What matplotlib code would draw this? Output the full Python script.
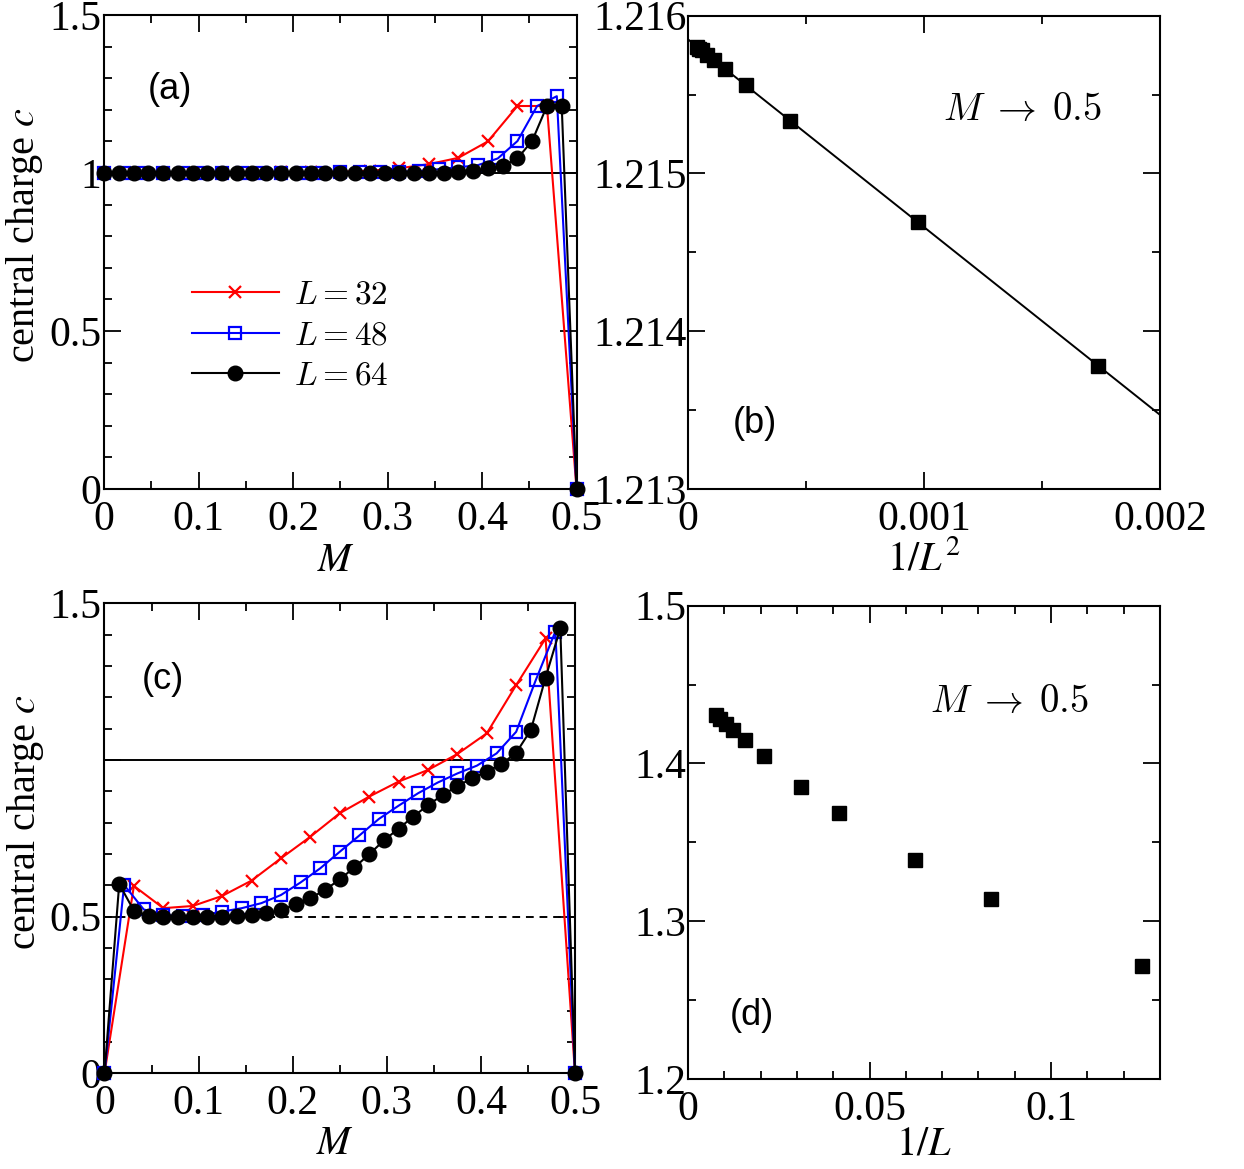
import matplotlib
matplotlib.use("Agg")
import matplotlib.pyplot as plt
from matplotlib.ticker import MultipleLocator

plt.rcParams["font.family"] = "Liberation Serif"
plt.rcParams["mathtext.fontset"] = "stix"

# panel (a): central charge vs M, one series per system size
L_sizes = [32, 48, 64]
c_a_32 = [1.0, 1.0, 1.0, 1.0, 1.001, 1.001, 1.002, 1.003, 1.004, 1.007,
          1.015, 1.028, 1.048, 1.100, 1.212, 1.212, 0.0]
c_a_48 = [1.0, 1.0, 1.0, 1.0, 1.0, 1.0, 1.0, 1.0, 1.0, 1.0, 1.001, 1.001,
          1.002, 1.002, 1.003, 1.004, 1.006, 1.012, 1.018, 1.025, 1.046,
          1.101, 1.212, 1.243, 0.0]
c_a_64 = [1.0, 1.0, 1.0, 1.0, 1.0, 1.0, 1.0, 1.0, 1.0, 1.0, 1.0, 1.0, 1.0,
          1.0, 1.0, 1.0, 1.0, 1.0, 1.0, 1.0, 1.0, 1.0, 1.0, 1.001, 1.004,
          1.007, 1.015, 1.022, 1.046, 1.102, 1.212, 1.212, 0.0]

# panel (c)
c_c_32 = [0.0, 0.598, 0.527, 0.534, 0.566, 0.615, 0.686, 0.755, 0.830,
          0.883, 0.931, 0.968, 1.019, 1.085, 1.239, 1.388, 0.0]
c_c_48 = [0.0, 0.601, 0.523, 0.505, 0.502, 0.505, 0.516, 0.527, 0.543,
          0.569, 0.609, 0.654, 0.707, 0.759, 0.812, 0.854, 0.894, 0.928,
          0.957, 0.982, 1.021, 1.090, 1.255, 1.410, 0.0]
c_c_64 = [0.0, 0.604, 0.519, 0.503, 0.500, 0.500, 0.500, 0.500, 0.500,
          0.502, 0.505, 0.511, 0.521, 0.539, 0.559, 0.585, 0.619, 0.657,
          0.699, 0.743, 0.781, 0.819, 0.856, 0.888, 0.917, 0.941, 0.963,
          0.987, 1.023, 1.096, 1.263, 1.420, 0.0]

# panel (b): peak value vs 1/L^2, with a linear fit
L_b = [24, 32, 48, 64, 80, 96, 112, 128, 144, 160]
c_b = [1.21378, 1.21469, 1.21533, 1.21556, 1.21566, 1.21572, 1.21575,
       1.21578, 1.21579, 1.21580]
fit_x = [0.0, 0.002]
fit_y = [1.21585, 1.21347]

# panel (d): peak value vs 1/L
L_d = [8, 12, 16, 24, 32, 48, 64, 80, 96, 112, 128]
c_d = [1.2717, 1.3139, 1.3388, 1.3684, 1.3853, 1.4046, 1.4147, 1.4215,
       1.4250, 1.4280, 1.4310]

W, H = 1244, 1169
fig = plt.figure(figsize=(W / 100, H / 100), dpi=100)


def box(left, top, right, bottom):
    return [left / W, 1 - bottom / H, (right - left) / W, (bottom - top) / H]


ax_a = fig.add_axes(box(104, 15, 576.5, 489))
ax_b = fig.add_axes(box(688, 15.7, 1160, 489))
ax_c = fig.add_axes(box(104.5, 603.3, 575, 1073.3))
ax_d = fig.add_axes(box(688, 605.7, 1160, 1079))

TICK_FS = 30
LABEL_FS = 29


def style(ax, ypad):
    for s in ax.spines.values():
        s.set_linewidth(1.5)
    ax.tick_params(which="both", direction="in", top=True, right=True,
                   width=1.3, labelsize=TICK_FS)
    ax.tick_params(which="major", length=12)
    ax.tick_params(which="minor", length=6)
    ax.tick_params(axis="x", pad=8)
    ax.tick_params(axis="y", pad=ypad)


def m_grid(L):
    return [k / L for k in range(L // 2 + 1)]


series_style = [
    dict(color="red", marker="x", ms=9, mew=1.6),
    dict(color="blue", marker="s", ms=9, mew=1.6, mfc="none"),
    dict(color="black", marker="o", ms=10.5),
]

for ax, data in [(ax_a, [c_a_32, c_a_48, c_a_64]), (ax_c, [c_c_32, c_c_48, c_c_64])]:
    ax.axhline(1.0, color="black", lw=1.4, zorder=1)
    for L, vals, st in zip(L_sizes, data, series_style):
        ax.plot(m_grid(L), vals, lw=1.5, label=rf"$L={L}$", zorder=3,
                clip_on=False, **st)
    ax.set_xlim(0, 0.5)
    ax.set_ylim(0, 1.5)
    ax.xaxis.set_minor_locator(MultipleLocator(0.05))
    ax.yaxis.set_minor_locator(MultipleLocator(0.1))
    ax.set_xticks([0, 0.1, 0.2, 0.3, 0.4, 0.5])
    ax.set_xticklabels(["0", "0.1", "0.2", "0.3", "0.4", "0.5"])
    style(ax, 2)
    ax.set_xlabel(r"$M$", fontsize=LABEL_FS)
    ax.set_ylabel(r"central charge $c$", fontsize=LABEL_FS)
    ax.yaxis.set_label_coords(-0.125, 0.535)
    ax.xaxis.set_label_coords(0.49, -0.113)

ax_c.axhline(0.5, color="black", lw=1.4, ls=(0, (4, 3)), zorder=1)
ax_a.set_yticks([0, 0.5, 1.0, 1.5])
ax_a.set_yticklabels(["0", "0.5", "1", "1.5"])
ax_c.set_yticks([0, 0.5, 1.0, 1.5])
ax_c.set_yticklabels(["0", "0.5", "", "1.5"])

leg = ax_a.legend(loc="upper left", bbox_to_anchor=(0.186, 0.44), frameon=False,
                  fontsize=24, handlelength=2.6, handletextpad=0.45,
                  labelspacing=0.3, borderpad=0, borderaxespad=0)
for t in leg.get_texts():
    t.set_math_fontfamily("cm")

# panel (b)
ax_b.plot(fit_x, fit_y, color="black", lw=1.4, zorder=2)
ax_b.plot([1 / L ** 2 for L in L_b], c_b, ls="none", marker="s", ms=10.5,
          color="black", zorder=3)
ax_b.set_xlim(0, 0.002)
ax_b.set_ylim(1.213, 1.216)
ax_b.set_xticks([0, 0.001, 0.002])
ax_b.set_xticklabels(["0", "0.001", "0.002"])
ax_b.xaxis.set_minor_locator(MultipleLocator(0.0005))
ax_b.set_yticks([1.213, 1.214, 1.215, 1.216])
ax_b.set_yticklabels(["1.213", "1.214", "1.215", "1.216"])
ax_b.yaxis.set_minor_locator(MultipleLocator(0.0005))
style(ax_b, 1)
ax_b.set_xlabel(r"$1/L^2$", fontsize=LABEL_FS)
ax_b.xaxis.set_label_coords(0.5, -0.108)

# panel (d)
ax_d.plot([1 / L for L in L_d], c_d, ls="none", marker="s", ms=10,
          color="black", zorder=3)
ax_d.set_xlim(0, 0.13)
ax_d.set_ylim(1.2, 1.5)
ax_d.set_xticks([0, 0.05, 0.1])
ax_d.set_xticklabels(["0", "0.05", "0.1"])
ax_d.xaxis.set_minor_locator(MultipleLocator(0.01))
ax_d.set_yticks([1.2, 1.3, 1.4, 1.5])
ax_d.set_yticklabels(["1.2", "1.3", "1.4", "1.5"])
ax_d.yaxis.set_minor_locator(MultipleLocator(0.05))
style(ax_d, 1)
ax_d.set_xlabel(r"$1/L$", fontsize=LABEL_FS)
ax_d.xaxis.set_label_coords(0.5, -0.1)

# panel tags and annotations
for ax, tag, x, y in [(ax_a, "(a)", 0.14, 0.842), (ax_b, "(b)", 0.142, 0.139),
                      (ax_c, "(c)", 0.124, 0.837), (ax_d, "(d)", 0.136, 0.135)]:
    ax.text(x, y, tag, transform=ax.transAxes, ha="center", va="center",
            fontsize=26, family="Liberation Sans")

for ax, x, y in [(ax_b, 0.708, 0.80), (ax_d, 0.682, 0.795)]:
    ax.text(x, y, r"$M\;\rightarrow\;0.5$", transform=ax.transAxes, ha="center",
            va="center", fontsize=28, math_fontfamily="cm")

fig.savefig("out.png", dpi=100)
